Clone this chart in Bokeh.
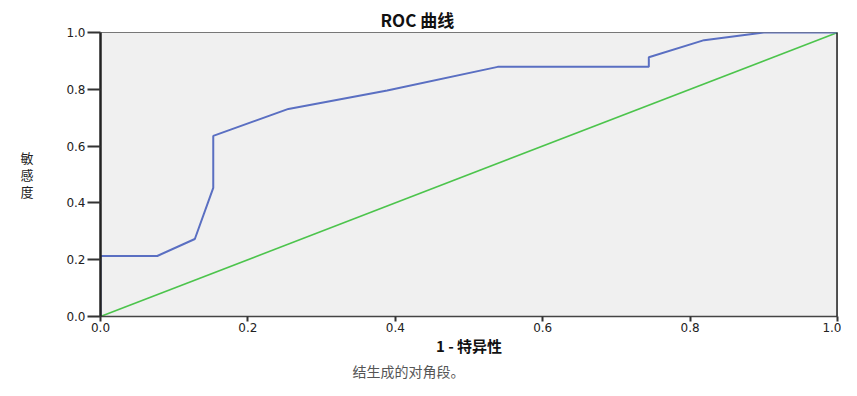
from bokeh.plotting import figure
from bokeh.models import Range1d, Span, FixedTicker, LinearAxis, Title
from bokeh.embed import file_html
from bokeh.resources import INLINE

# ROC curve data (1 - specificity, sensitivity)
fpr = [0.0, 0.0, 0.077, 0.128, 0.153, 0.153, 0.255, 0.389, 0.539, 0.744, 0.744, 0.819, 0.90, 1.0]
tpr = [0.0, 0.213, 0.213, 0.273, 0.453, 0.636, 0.731, 0.796, 0.879, 0.879, 0.913, 0.973, 1.0, 1.0]
diag_x = [0.0, 1.0]
diag_y = [0.0, 1.0]
ticks = [0.0, 0.2, 0.4, 0.6, 0.8, 1.0]
tick_labels = {0.0: "0.0", 0.2: "0.2", 0.4: "0.4", 0.6: "0.6", 0.8: "0.8", 1.0: "1.0"}

title_text = "ROC 曲线"
xlabel_text = "1 - 特异性"
ylabel_text = "敏\n感\n度"
footer_text = "结生成的对角段。"

CJK = "Noto Sans CJK SC"

p = figure(width=841, height=380, output_backend="svg", toolbar_location=None,
           x_range=Range1d(0, 1), y_range=Range1d(0, 1),
           min_border_left=100, min_border_right=4, min_border_top=32, min_border_bottom=40)
p.border_fill_color = "white"
p.background_fill_color = "#f0f0f0"
p.outline_line_color = "#777777"
p.outline_line_width = 1
p.grid.visible = False

# title (above)
p.title.text = title_text
p.title.text_font = CJK
p.title.text_font_style = "bold"
p.title.text_font_size = "17px"
p.title.text_color = "#111111"
p.title.align = "left"
p.title.offset = 280
p.title.standoff = 2

for ax in (p.xaxis[0], p.yaxis[0]):
    ax.ticker = FixedTicker(ticks=ticks)
    ax.major_label_overrides = tick_labels
    ax.minor_tick_line_color = None
    ax.major_tick_in = 0
    ax.major_label_text_font = "DejaVu Sans"
    ax.major_label_text_font_size = "12px"
    ax.major_label_text_color = "#222222"
    ax.major_tick_line_color = "#333333"
    ax.major_tick_line_width = 2

p.yaxis.major_tick_out = 13
p.yaxis.major_label_standoff = 2
p.yaxis.axis_line_width = 2.5
p.yaxis.axis_line_color = "#222222"

p.xaxis.major_tick_out = 5
p.xaxis.major_label_standoff = 1
p.xaxis.axis_line_width = 1.5
p.xaxis.axis_line_color = "#444444"
p.xaxis.axis_label = xlabel_text
p.xaxis.axis_label_text_font = CJK
p.xaxis.axis_label_text_font_style = "bold"
p.xaxis.axis_label_text_font_size = "15px"
p.xaxis.axis_label_text_color = "#111111"
p.xaxis.axis_label_standoff = 0

# stacked (horizontal) y-axis title, drawn as an outer left axis with one label
ylab_axis = LinearAxis(ticker=FixedTicker(ticks=[0.5]),
                       major_label_overrides={0.5: ylabel_text},
                       axis_line_color=None, major_tick_line_color=None,
                       minor_tick_line_color=None, major_tick_out=0, major_tick_in=0,
                       major_label_standoff=30,
                       major_label_text_font=CJK, major_label_text_font_size="13px",
                       major_label_text_line_height=0.9,
                       major_label_text_color="#222222")
p.add_layout(ylab_axis, "left")

# footer note (below)
p.add_layout(Title(text=footer_text, align="left", offset=252, standoff=0,
                   text_font=CJK, text_font_style="normal", text_font_size="14px",
                   text_line_height=0.9, text_color="#555555"), "below")

p.add_layout(Span(location=1.0, dimension="height", line_color="#222222", line_width=2.5))

p.line(diag_x, diag_y, line_color="#4cc44c", line_width=1.6)
p.line(fpr, tpr, line_color="#5a6fc2", line_width=2)

open("out.html", "w").write(file_html(p, INLINE))
